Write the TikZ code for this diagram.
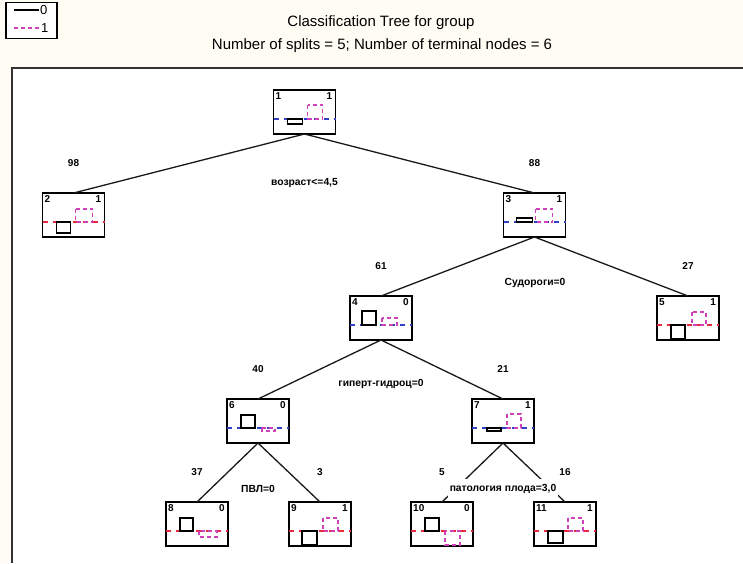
\documentclass[tikz,border=0pt]{standalone}
\usepackage{fontspec}
\setmainfont{Liberation Sans}
\usetikzlibrary{calc}
\definecolor{cream}{HTML}{FFFCF4}
\definecolor{dblue}{HTML}{3040C8}
\definecolor{dred}{HTML}{E8283C}
\definecolor{mag}{HTML}{D040B8}
\newcommand{\tnode}[7]{%
  \node[tbox] (#1) at (#2) {};
  \node[tid, anchor=north west] (#1id) at ([shift={(1pt,-1.5pt)}]#1.north west) {#3};
  \node[tid, anchor=north east] (#1cl) at ([shift={(-2pt,-1.5pt)}]#1.north east) {#4};
  \begin{scope}[shift={(#1.north west)}]
    \draw[#5] (0,29) -- (62,29);
    \draw[blbar] #6;
    \draw[mgbar] #7;
  \end{scope}
}
\begin{document}
\begin{tikzpicture}[x=1pt,y=-1pt,
  tbox/.style={draw=black, line width=1.4pt, minimum width=62pt, minimum height=44pt, inner sep=0pt, outer sep=0pt, fill=white},
  tid/.style={font=\bfseries\fontsize{10}{10}\selectfont, inner sep=1pt},
  cnt/.style={font=\bfseries\fontsize{10}{12}\selectfont, inner sep=1pt},
  splitlab/.style={font=\bfseries\fontsize{10.3}{12}\selectfont, fill=white, inner xsep=2pt, inner ysep=5pt},
  edge/.style={line width=1.3pt, draw=black!90},
  blbar/.style={draw=black, line width=1.5pt},
  mgbar/.style={draw=mag, line width=1.6pt, dash pattern=on 4pt off 3pt},
  lnblue/.style={draw=dblue, line width=1.4pt, dash pattern=on 5pt off 5pt},
  lnred/.style={draw=dred, line width=1.4pt, dash pattern=on 5pt off 5pt},
  titlelab/.style={font=\fontsize{15}{17}\selectfont, inner sep=0pt},
  leglab/.style={font=\fontsize{13}{14}\selectfont, inner sep=1pt, anchor=west}
]
\useasboundingbox (0,0) rectangle (743,563);
\fill[cream] (0,0) rectangle (743,563);
\fill[white] (12,68) rectangle (743,563);
\draw[line width=1.4pt, black!80] (12,563) -- (12,68) -- (743,68);

% legend
\node[draw=black, line width=1.2pt, fill=white, minimum width=51pt, minimum height=36pt, inner sep=0pt] (leg) at (31.5,20.5) {};
\coordinate (l0a) at (14,10); \coordinate (l0b) at (39,10);
\coordinate (l1a) at (14,28); \coordinate (l1b) at (40,28);
\draw[line width=1.2pt] (l0a) -- (l0b);
\draw[mag, line width=1.2pt, dash pattern=on 4pt off 3pt] (l1a) -- (l1b);
\node[leglab] (leg0) at (l0b) {0};
\node[leglab] (leg1) at (l1b) {1};

% title
\node[titlelab] (t1) at (381,23) {Classification Tree for group};
\node[titlelab] (t2) at (382,46) {Number of splits = 5; Number of terminal nodes = 6};

% nodes
\tnode{n1}{304.5,112}{1}{1}{lnblue}{(14,29) rectangle (29,34)}{(34,15) rectangle (49,29)}
\tnode{n2}{73.5,215}{2}{1}{lnred}{(14,29) rectangle (28,40)}{(33,16) rectangle (50,29)}
\tnode{n3}{534.5,215}{3}{1}{lnblue}{(13,25) rectangle (29,29)}{(32,16) rectangle (49,29)}
\tnode{n4}{381,318}{4}{0}{lnblue}{(12,15) rectangle (26,29)}{(32,22) rectangle (47,29)}
\tnode{n5}{688,318}{5}{1}{lnred}{(14,29) rectangle (28,43)}{(35,16) rectangle (49,29)}
\tnode{n6}{258,421}{6}{0}{lnblue}{(14,16) rectangle (28,29)}{(35,29) rectangle (48,32)}
\tnode{n7}{503,421}{7}{1}{lnblue}{(15,29) rectangle (29,32)}{(35,15) rectangle (49,29)}
\tnode{n8}{197,524}{8}{0}{lnred}{(14,16) rectangle (27,29)}{(33,29) rectangle (51,35)}
\tnode{n9}{320,524}{9}{1}{lnred}{(13,29) rectangle (28,43)}{(34,16) rectangle (49,29)}
\tnode{n10}{442,524}{10}{0}{lnred}{(14,16) rectangle (28,29)}{(34,29) rectangle (49,43)}
\tnode{n11}{565,524}{11}{1}{lnred}{(14,29) rectangle (29,41)}{(34,16) rectangle (49,29)}

% edges
\draw[edge] (n1.south) -- (n2.north);
\draw[edge] (n1.south) -- (n3.north);
\draw[edge] (n3.south) -- (n4.north);
\draw[edge] (n3.south) -- (n5.north);
\draw[edge] (n4.south) -- (n6.north);
\draw[edge] (n4.south) -- (n7.north);
\draw[edge] (n6.south) -- (n8.north);
\draw[edge] (n6.south) -- (n9.north);
\draw[edge] (n7.south) -- (n10.north);
\draw[edge] (n7.south) -- (n11.north);

% counts
\node[cnt] (c2) at ([yshift=30pt]n2.north) {98};
\node[cnt] (c3) at ([yshift=30pt]n3.north) {88};
\node[cnt] (c4) at ([yshift=30pt]n4.north) {61};
\node[cnt] (c5) at ([yshift=30pt]n5.north) {27};
\node[cnt] (c6) at ([yshift=30pt]n6.north) {40};
\node[cnt] (c7) at ([yshift=30pt]n7.north) {21};
\node[cnt] (c8) at ([yshift=30pt]n8.north) {37};
\node[cnt] (c9) at ([yshift=30pt]n9.north) {3};
\node[cnt] (c10) at ([yshift=30pt]n10.north) {5};
\node[cnt] (c11) at ([yshift=30pt]n11.north) {16};

% split labels
\node[splitlab] (s1) at (304.5,183) {возраст<=4,5};
\node[splitlab] (s3) at (535,283) {Судороги=0};
\node[splitlab] (s4) at (381,384) {гиперт-гидроц=0};
\node[splitlab] (s6) at (258,489) {ПВЛ=0};
\node[splitlab] (s7) at (503,489) {патология плода=3,0};
\end{tikzpicture}
\end{document}
